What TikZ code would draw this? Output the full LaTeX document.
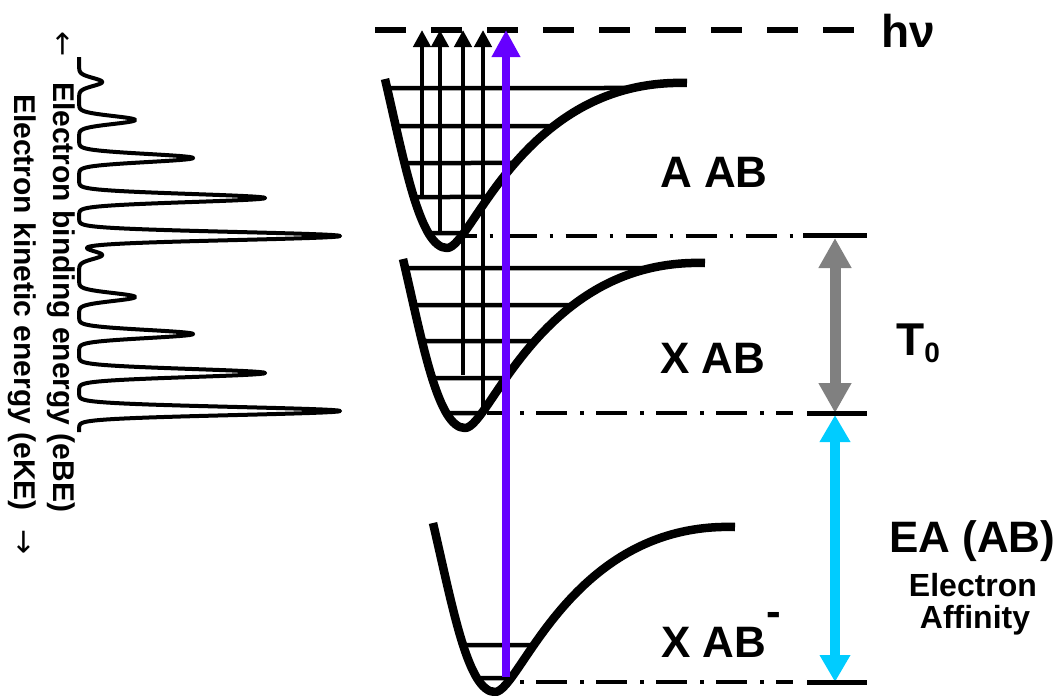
\documentclass[tikz,border=0pt]{standalone}
\usepackage{fontspec}
\setmainfont{Liberation Sans}
\newfontfamily\arrowfont{DejaVu Sans}
\usetikzlibrary{arrows.meta,intersections}
\definecolor{photon}{RGB}{102,0,255}
\definecolor{eacol}{RGB}{0,204,255}
\definecolor{tzero}{RGB}{128,128,128}
\newcommand{\pescurve}{(385,79) .. controls (405,165) and (420,248) .. (447,248) .. controls (472,248) and (522,78) .. (687,83)}
\begin{document}
\begin{tikzpicture}[x=1pt,y=-1pt,
  declare function={pk(\d)=exp(max(-9,-0.03125*min(abs(\d),40)*min(abs(\d),40)));},
  pesline/.style={line width=8.5pt,line join=round},
  lvl/.style={line width=4.5pt},
  excite/.style={line width=4.5pt,-{Triangle[length=17pt,width=17pt]}},
  dashdot/.style={line width=3.8pt,dash pattern=on 31pt off 13pt on 3.5pt off 12.5pt},
  bar/.style={line width=5pt},
  big/.style={inner sep=0pt,font=\bfseries\fontsize{44}{44}\selectfont},
  small/.style={inner sep=0pt,font=\bfseries\fontsize{32}{32}\selectfont},
  rot/.style={inner sep=0pt,rotate=-90,anchor=base west,font=\bfseries\fontsize{30}{30}\selectfont},
  arrowglyph/.style={inner sep=0pt,rotate=-90,anchor=base west,font=\arrowfont\fontsize{30}{30}\selectfont}
]
\useasboundingbox (0,0) rectangle (1063,696);

% photon energy line
\coordinate (hvL) at (375,30);
\coordinate (hvR) at (854,30);
\draw[line width=6pt,dash pattern=on 31pt off 25pt] (hvL) -- (hvR);
\node[big,anchor=base west,font=\bfseries\fontsize{46}{46}\selectfont] (hv) at (881,47) {hν};

% potential curves (paths only, drawn later on top)
\path[name path global=pesA] \pescurve;
\begin{scope}[shift={(18,180)}]
  \path[name path global=pesX] \pescurve;
\end{scope}
\begin{scope}[shift={(48,444)}]
  \path[name path global=pesN] \pescurve;
\end{scope}

% vibrational levels
\foreach \y in {88,126,163,197,233} {
  \path[name path=hl] (370,\y) -- (760,\y);
  \draw[lvl,name intersections={of=pesA and hl,sort by=hl}] (intersection-1) -- (intersection-2);
}
\foreach \y in {268,305,341,378,413} {
  \path[name path=hl] (370,\y) -- (760,\y);
  \draw[lvl,name intersections={of=pesX and hl,sort by=hl}] (intersection-1) -- (intersection-2);
}
\foreach \y in {645,678} {
  \path[name path=hl] (370,\y) -- (760,\y);
  \draw[lvl,name intersections={of=pesN and hl,sort by=hl}] (intersection-1) -- (intersection-2);
}

% detachment arrows
\coordinate (t1) at (422,30); \coordinate (b1) at (422,197);
\coordinate (t2) at (440,30); \coordinate (b2) at (440,233);
\coordinate (t3) at (463,30); \coordinate (b3) at (463,375);
\coordinate (t4) at (483,30); \coordinate (b4) at (483,412);
\draw[excite] (b1) -- (t1);
\draw[excite] (b2) -- (t2);
\draw[excite] (b3) -- (t3);
\draw[excite] (b4) -- (t4);

% dash-dot reference lines
\draw[dashdot,dash phase=16.5pt] (462,236) -- (794,236);
\draw[dashdot,dash phase=11pt] (487,413) -- (793,413);
\draw[dashdot,dash phase=34pt] (510,682) -- (793,682);

% potential energy curves
\draw[pesline] \pescurve;
\begin{scope}[shift={(18,180)}]
  \draw[pesline] \pescurve;
\end{scope}
\begin{scope}[shift={(48,444)}]
  \draw[pesline] \pescurve;
\end{scope}

% energy difference arrows
\coordinate (lvA) at (835,235);
\coordinate (lvX) at (835,413);
\coordinate (lvN) at (835,682);
\draw[tzero,line width=11pt,{Triangle[length=30pt,width=31pt]}-{Triangle[length=30pt,width=31pt]}] ([yshift=-3pt]lvA) -- (lvX);
\draw[eacol,line width=10pt,{Triangle[length=27pt,width=29pt]}-{Triangle[length=27pt,width=29pt]}] ([yshift=-2pt]lvX) -- (lvN);
\draw[bar] (803,235) -- (867,235);
\draw[bar] (807,413) -- (867,413);
\draw[bar] (807,682) -- (867,682);

% photon arrow
\coordinate (pb) at (506,677);
\coordinate (pt) at (506,30);
\draw[photon,line width=8pt,-{Triangle[length=27pt,width=27pt]}] (pb) -- (pt);

% photoelectron spectrum
\draw[line width=4pt,line join=round]
  plot[domain=57:432,samples=751,variable=\t]
  ({79+23*pk(\t-82)+56*pk(\t-120)+114*pk(\t-158)+186*pk(\t-198)+261*pk(\t-236)+23*pk(\t-255)+56*pk(\t-297)+114*pk(\t-334)+186*pk(\t-373)+261*pk(\t-411)},{\t});

% axis labels
\node[arrowglyph] (arrA) at (53,31) {←};
\node[rot] (eBE) at (53,82) {Electron binding energy (eBE)};
\node[rot] (eKE) at (14,94) {Electron kinetic energy (eKE)};
\node[arrowglyph] (arrB) at (14,529) {→};

% state labels
\node[big,anchor=base west] (AAB) at (660,187) {A AB};
\node[big,anchor=base west] (XAB) at (660,373) {X AB};
\node[big,anchor=base west] (XABm) at (661,657) {X AB\raisebox{31pt}{-}};
\node[big,anchor=base west,font=\bfseries\fontsize{46}{46}\selectfont] (T0) at (896,355) {T\raisebox{-7pt}{\fontsize{28}{28}\selectfont 0}};
\node[big,anchor=base west] (EA) at (889,552) {EA (AB)};
\node[small,anchor=base] (el) at (973,596) {Electron};
\node[small,anchor=base] (af) at (975,628) {Affinity};
\end{tikzpicture}
\end{document}
